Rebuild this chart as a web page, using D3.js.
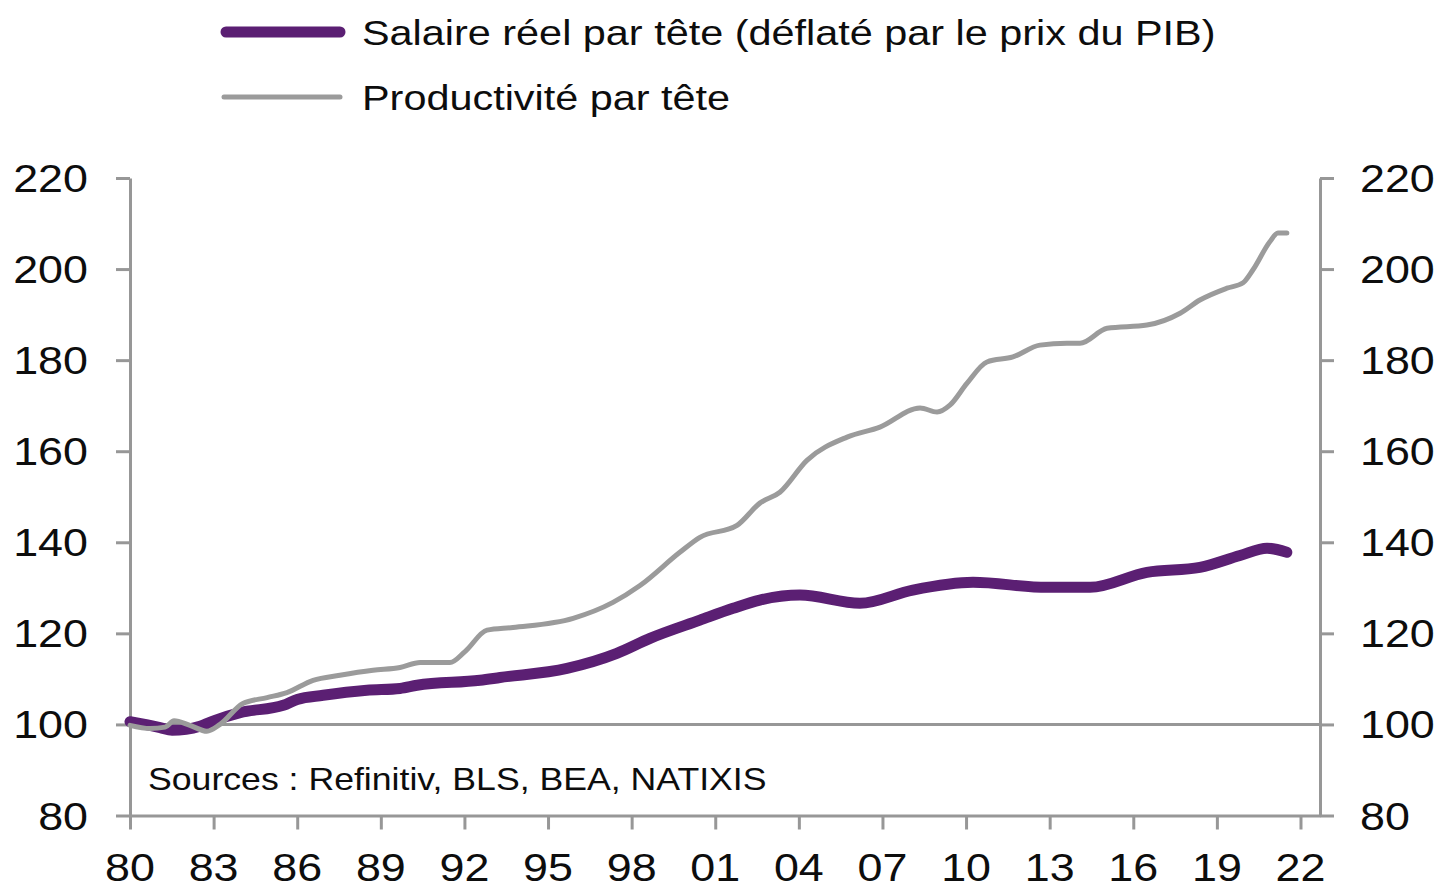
<!DOCTYPE html>
<html>
<head>
<meta charset="utf-8">
<script src="https://cdn.jsdelivr.net/npm/d3@7"></script>
<style>
  body { margin: 0; background: #fff; }
  text { font-family: "Liberation Sans", Arial, sans-serif; fill: #0d0d0d; }
</style>
</head>
<body>
<div id="chart"></div>
<script>
// productivité par tête (index 1980 = 100)
var prodYears = [1980.0, 1980.72, 1981.26, 1981.58, 1982.15, 1982.76, 1983.23, 1984.05, 1984.92, 1985.63,
  1986.57, 1987.53, 1988.72, 1989.69, 1990.41, 1991.48, 1992.02, 1992.81, 1993.74, 1995.9,
  1997.33, 1998.3, 1999.73, 2000.45, 2001.78, 2002.6, 2003.32, 2004.29, 2005.73, 2006.91,
  2008.35, 2008.96, 2009.42, 2010.03, 2010.75, 2011.68, 2012.65, 2013.62, 2014.09, 2015.06,
  2016.49, 2017.68, 2018.39, 2019.36, 2019.94, 2020.29, 2020.9, 2021.19, 2021.51];
var prodValues = [99.8, 99.1, 99.4, 100.8, 99.8, 98.5, 100.0, 104.6, 105.9, 107.0,
  109.7, 110.8, 111.9, 112.5, 113.6, 113.6, 116.0, 120.7, 121.3, 123.3,
  126.8, 130.5, 137.8, 141.1, 143.7, 148.6, 151.0, 158.0, 163.1, 165.3,
  169.5, 168.6, 170.1, 174.9, 179.6, 180.7, 183.3, 183.7, 183.7, 187.0,
  187.7, 190.3, 193.2, 195.8, 197.0, 199.8, 206.0, 207.9, 207.9];

// salaire réel par tête (déflaté par le prix du PIB)
var wageYears = [1980.0, 1981.08, 1981.51, 1982.51, 1983.05, 1983.95, 1985.5, 1986.0, 1986.93, 1988.5,
  1989.69, 1990.3, 1992.56, 1993.28, 1995.68, 1997.47, 1998.66, 2000.45, 2001.64, 2002.6,
  2004.04, 2006.19, 2008.09, 2010.25, 2012.9, 2014.45, 2016.49, 2018.39, 2019.83, 2020.8, 2021.51];
var wageValues = [100.6, 99.3, 98.7, 99.6, 100.9, 102.6, 104.2, 105.5, 106.4, 107.5,
  107.9, 108.6, 109.7, 110.3, 112.3, 115.6, 118.9, 122.9, 125.5, 127.3,
  128.4, 126.6, 129.5, 131.2, 130.1, 130.1, 133.4, 134.5, 137.1, 138.7, 137.8];

var xTicks = d3.range(1980, 2023, 3);
var yTicks = [80, 100, 120, 140, 160, 180, 200, 220];
var legendLabels = ["Salaire réel par tête (déflaté par le prix du PIB)", "Productivité par tête"];
var sourceText = "Sources : Refinitiv, BLS, BEA, NATIXIS";

var width = 1447, height = 889;
var purple = "#5b1f73", lineGray = "#9b9b9b", axisGray = "#979797";
var sx = 1.15; // the reference text is drawn a bit wide

var svg = d3.select("#chart").append("svg")
  .attr("width", width).attr("height", height);

var x = d3.scaleLinear().domain([1980, 2022.7]).range([130, 1320]);
var y = d3.scaleLinear().domain([80, 220]).range([815.5, 178]);

function wideText(g, tx, ty, txt, size, anchor) {
  return g.append("text")
    .attr("transform", "translate(" + tx + "," + ty + ") scale(" + sx + ",1)")
    .attr("text-anchor", anchor || "start")
    .style("font-size", size + "px")
    .text(txt);
}

// axes
var axisL = svg.append("g").attr("transform", "translate(" + x.range()[0] + ",0)")
  .call(d3.axisLeft(y).tickValues(yTicks).tickSize(14).tickSizeOuter(0).tickFormat(""));
var axisR = svg.append("g").attr("transform", "translate(" + x.range()[1] + ",0)")
  .call(d3.axisRight(y).tickValues(yTicks).tickSize(14).tickSizeOuter(0).tickFormat(""));
var axisB = svg.append("g").attr("transform", "translate(0," + y(80) + ")")
  .call(d3.axisBottom(x).tickValues(xTicks).tickSize(14).tickSizeOuter(0).tickFormat(""));

[axisL, axisR, axisB].forEach(function(a) {
  a.selectAll("path, line").attr("stroke", axisGray).attr("stroke-width", 3);
});

// line at 100
svg.append("line")
  .attr("x1", x.range()[0]).attr("x2", x.range()[1])
  .attr("y1", y(100)).attr("y2", y(100))
  .attr("stroke", axisGray).attr("stroke-width", 3);

// tick labels
var labels = svg.append("g");
yTicks.forEach(function(v) {
  wideText(labels, 88, y(v) + 14, v, 39, "end");
  wideText(labels, 1360, y(v) + 14, v, 39, "start");
});
xTicks.forEach(function(v) {
  wideText(labels, x(v), 881, String(v % 100).padStart(2, "0"), 39, "middle");
});

// series
var wageData = wageYears.map(function(d, i) { return {x: d, v: wageValues[i]}; });
var prodData = prodYears.map(function(d, i) { return {x: d, v: prodValues[i]}; });

var wageLine = d3.line().x(d => x(d.x)).y(d => y(d.v)).curve(d3.curveMonotoneX);
var prodLine = d3.line().x(d => x(d.x)).y(d => y(d.v)).curve(d3.curveMonotoneX);

svg.append("path").datum(wageData)
  .attr("d", wageLine)
  .attr("fill", "none").attr("stroke", purple).attr("stroke-width", 11)
  .attr("stroke-linecap", "round").attr("stroke-linejoin", "round");

svg.append("path").datum(prodData)
  .attr("d", prodLine)
  .attr("fill", "none").attr("stroke", lineGray).attr("stroke-width", 5)
  .attr("stroke-linecap", "round").attr("stroke-linejoin", "round");

// legend
var legend = svg.append("g");
legend.append("line").attr("x1", 226).attr("x2", 340).attr("y1", 32).attr("y2", 32)
  .attr("stroke", purple).attr("stroke-width", 11).attr("stroke-linecap", "round");
legend.append("line").attr("x1", 224).attr("x2", 340).attr("y1", 97).attr("y2", 97)
  .attr("stroke", lineGray).attr("stroke-width", 5).attr("stroke-linecap", "round");
wideText(legend, 362, 45, legendLabels[0], 36);
wideText(legend, 362, 110, legendLabels[1], 36);

// sources
wideText(svg, 148, 790, sourceText, 31);
</script>
</body>
</html>
